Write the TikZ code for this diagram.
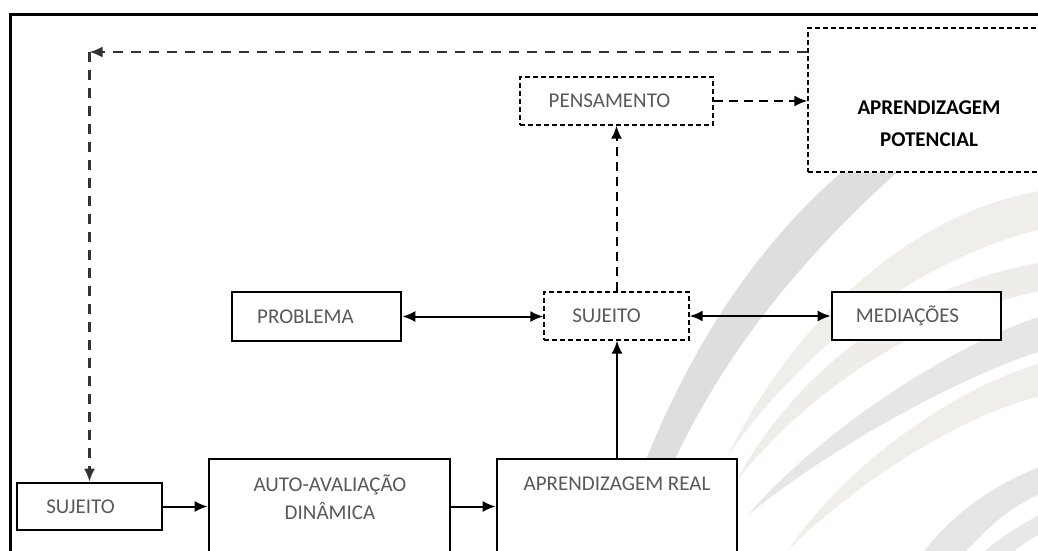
\documentclass[tikz,border=0pt]{standalone}
\usepackage{fontspec}
\setmainfont{Carlito}
\usetikzlibrary{arrows.meta}
\definecolor{txtgray}{RGB}{89,89,89}
\definecolor{bandA}{RGB}{222,222,220}
\definecolor{bandB}{RGB}{240,238,234}
\definecolor{bandC}{RGB}{239,237,234}
\definecolor{bandD}{RGB}{230,230,228}
\definecolor{bandE}{RGB}{240,238,235}
\definecolor{bandF}{RGB}{229,229,227}
\definecolor{bandG}{RGB}{232,232,230}
\tikzset{
  solidbox/.style={draw=black, line width=2.6pt, fill=white, inner sep=0pt},
  dashbox/.style={draw=black, line width=1.3pt, dash pattern=on 5pt off 3pt, fill=white, inner sep=0pt},
  lbl/.style={font=\fontsize{21}{25}\selectfont, text=txtgray, inner sep=0pt},
  arr/.style={line width=2pt, -{Latex[length=13pt,width=11pt]}},
  darr/.style={line width=2pt, {Latex[length=13pt,width=11pt]}-{Latex[length=13pt,width=11pt]}},
  dasharr/.style={arr, dash pattern=on 9pt off 6pt},
  loopline/.style={line width=2.2pt, draw=black!80, dash pattern=on 10pt off 8pt, -{Latex[length=13pt,width=11pt]}}
}
\begin{document}
\begin{tikzpicture}[x=1pt,y=-1pt]
\useasboundingbox (0,0) rectangle (1038,550);
\clip (0,0) rectangle (1038,550);
\fill[white] (0,0) rectangle (1038,550);
% background bands
\fill[bandA] (640,475) .. controls (690,345) and (760,240) .. (850,165) -- (905,165) .. controls (815,245) and (725,345) .. (668,475) -- cycle;
\fill[bandB] (1045,190) .. controls (910,212) and (795,320) .. (727,457) .. controls (805,345) and (920,258) .. (1045,228) -- cycle;
\fill[bandC] (1045,262) .. controls (900,285) and (790,380) .. (737,480) .. controls (810,390) and (920,315) .. (1045,290) -- cycle;
\fill[bandD] (1045,315) .. controls (960,340) and (820,430) .. (748,515) .. controls (840,440) and (975,370) .. (1045,350) -- cycle;
\fill[bandE] (1045,362) .. controls (960,385) and (850,460) .. (788,550) .. controls (870,470) and (975,410) .. (1045,395) -- cycle;
\fill[bandF] (1045,465) .. controls (990,485) and (945,520) .. (918,560) -- (958,560) .. controls (985,530) and (1010,505) .. (1045,492) -- cycle;
\fill[bandG] (1045,512) .. controls (1020,525) and (995,540) .. (975,560) -- (1003,560) .. controls (1018,548) and (1030,538) .. (1045,532) -- cycle;
% frame
\draw[line width=3pt] (10,570) -- (10,14) -- (1060,14);
% boxes
\node[dashbox, minimum width=242pt, minimum height=144pt] (ap) at (929,100) {};
\node[font=\fontsize{21}{32}\bfseries\selectfont, align=center, inner sep=0pt] (aptxt) at (929,124) {APRENDIZAGEM\\POTENCIAL};
\node[dashbox, minimum width=193pt, minimum height=48pt, label={[lbl, name=penstxt, xshift=-7pt]center:PENSAMENTO}] (pens) at (616.5,101) {};
\node[dashbox, minimum width=145pt, minimum height=48pt, label={[lbl, name=sujmtxt, xshift=-10pt]center:SUJEITO}] (sujm) at (616.5,316) {};
\node[solidbox, minimum width=169pt, minimum height=49pt, label={[lbl, name=probtxt, xshift=-11pt]center:PROBLEMA}] (prob) at (316.5,316.5) {};
\node[solidbox, minimum width=169pt, minimum height=48pt, label={[lbl, name=medtxt, xshift=-9pt]center:MEDIAÇÕES}] (med) at (916.5,316) {};
\node[solidbox, minimum width=145pt, minimum height=47pt, label={[lbl, name=suj1txt, xshift=-9pt]center:SUJEITO}] (suj1) at (89.5,506.5) {};
\node[solidbox, minimum width=241pt, minimum height=141pt] (auto) at (329.5,529.5) {};
\node[lbl, anchor=base] (autot1) at (330,491.5) {AUTO-AVALIAÇÃO};
\node[lbl, anchor=base] (autot2) at (330,519.5) {DINÂMICA};
\node[solidbox, minimum width=240pt, minimum height=141pt] (ar) at (617,529.5) {};
\node[lbl, anchor=base] (artxt) at (617,490) {APRENDIZAGEM REAL};
% connectors
\draw[darr] (prob.east) -- (prob.east -| sujm.west);
\draw[darr] (sujm.east) -- (sujm.east -| med.west);
\draw[arr] (ar.north) -- (ar.north |- sujm.south);
\draw[dasharr] (sujm.north) -- (pens.south);
\draw[dasharr] (pens.east) -- (pens.east -| ap.west);
\coordinate (loopstart) at (ap.west |- 0,52);
\coordinate (corner) at (suj1.north |- 0,52);
\draw[loopline] (loopstart) -- (corner);
\draw[loopline] (corner) -- (suj1.north);
\draw[arr] (suj1.east) -- (suj1.east -| auto.west);
\draw[arr] (auto.east |- suj1.east) -- (ar.west |- suj1.east);
\end{tikzpicture}
\end{document}
